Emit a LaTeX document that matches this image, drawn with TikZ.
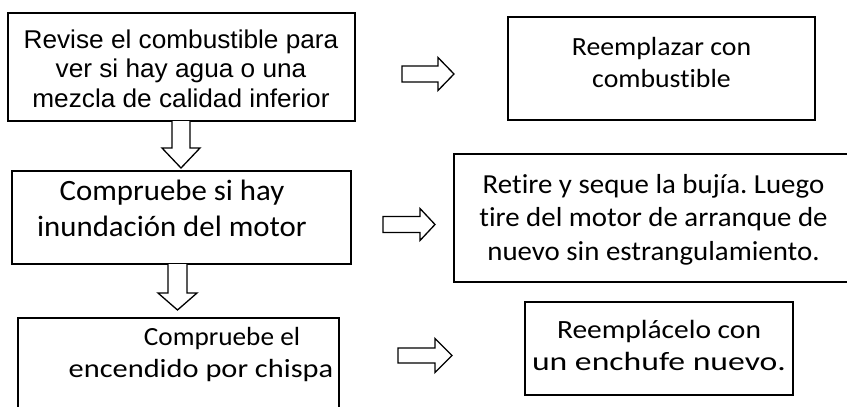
\documentclass[tikz,border=0pt]{standalone}
\usepackage{fontspec}
\usepackage{graphicx}
\newfontfamily\arialf{Liberation Sans}
\newfontfamily\calf{Carlito}[Ligatures={NoCommon}]
\frenchspacing
\newcommand\sx[2]{\scalebox{#1}[1]{#2}}
\tikzset{
  box/.style={draw=black, line width=1.7pt, inner sep=0pt, fill=none},
  txt/.style={inner sep=0pt, align=center, anchor=base},
  blockarrow/.style={draw=black, line width=1.3pt, fill=white, line join=miter}
}
% horizontal block arrow: #1 x start, #2 head base x, #3 tip x, #4 y centre, #5 shaft half, #6 head half
\newcommand\hblock[6]{\draw[blockarrow] (#1,#4-#5) -- (#2,#4-#5) -- (#2,#4-#6) -- (#3,#4) -- (#2,#4+#6) -- (#2,#4+#5) -- (#1,#4+#5) -- cycle;}
% vertical block arrow: #1 y start, #2 head base y, #3 tip y, #4 x centre, #5 shaft half, #6 head half
\newcommand\vblock[6]{\draw[blockarrow] (#4-#5,#1) -- (#4-#5,#2) -- (#4-#6,#2) -- (#4,#3) -- (#4+#6,#2) -- (#4+#5,#2) -- (#4+#5,#1);}
\begin{document}
\begin{tikzpicture}[x=1pt,y=-1pt]
\useasboundingbox (0,0) rectangle (847,407);
\clip (0,0) rectangle (847,407);
\fill[white] (0,0) rectangle (847,407);
% boxes
\node[box, minimum width=347pt, minimum height=108pt] (b1) at (181.5,67) {};
\node[box, minimum width=307pt, minimum height=103pt] (b2) at (661.5,68.5) {};
\node[box, minimum width=339pt, minimum height=93pt] (b3) at (181.5,217.5) {};
\node[box, minimum width=420pt, minimum height=128pt] (b4) at (664,218) {};
\node[box, minimum width=321pt, minimum height=110pt] (b5) at (178.5,373) {};
\node[box, minimum width=268pt, minimum height=93pt] (b6) at (659,348.5) {};
% texts (anchor base = last line baseline)
\node[txt, font={\arialf\fontsize{25.7}{29.5}\selectfont}] (t1) at (181,107)
  {\sx{1.02}{Revise el combustible para}\\\sx{1.02}{ver si hay agua o una}\\\sx{1.02}{mezcla de calidad inferior}};
\node[txt, font={\calf\fontsize{26.2}{32}\selectfont}] (t2) at (661.5,87)
  {\sx{1.06}{Reemplazar con}\\\sx{1.06}{combustible}};
\node[txt, font={\calf\fontsize{29.5}{36}\selectfont}] (t3) at (172,236.7)
  {\sx{1.045}{Compruebe si hay}\\\sx{1.045}{inundación del motor}};
\node[txt, font={\calf\fontsize{27.5}{33.5}\selectfont}] (t4) at (653.5,260)
  {\sx{1.05}{Retire y seque la bujía. Luego}\\\sx{1.05}{tire del motor de arranque de}\\\sx{1.05}{nuevo sin estrangulamiento.}};
\node[txt, font={\calf\fontsize{26.2}{32}\selectfont}] (t5a) at (222,345) {\sx{1.04}{Compruebe el}};
\node[txt, font={\calf\fontsize{26.2}{32}\selectfont}] (t5b) at (201,377) {\sx{1.16}{encendido por chispa}};
\node[txt, font={\calf\fontsize{26.3}{32}\selectfont}] (t6a) at (659,338) {\sx{1.12}{Reemplácelo con}};
\node[txt, font={\calf\fontsize{26.3}{32}\selectfont}] (t6b) at (659,370) {\sx{1.28}{un enchufe nuevo.}};
% arrows
\hblock{402}{438}{454}{74}{8}{16.5}
\hblock{383}{420}{435}{224.5}{8}{16}
\hblock{398}{435}{452}{355.5}{7.5}{17}
\vblock{121}{148}{168}{181}{9}{19}
\vblock{264}{293}{310}{177.5}{9.5}{19.5}
\end{tikzpicture}
\end{document}
